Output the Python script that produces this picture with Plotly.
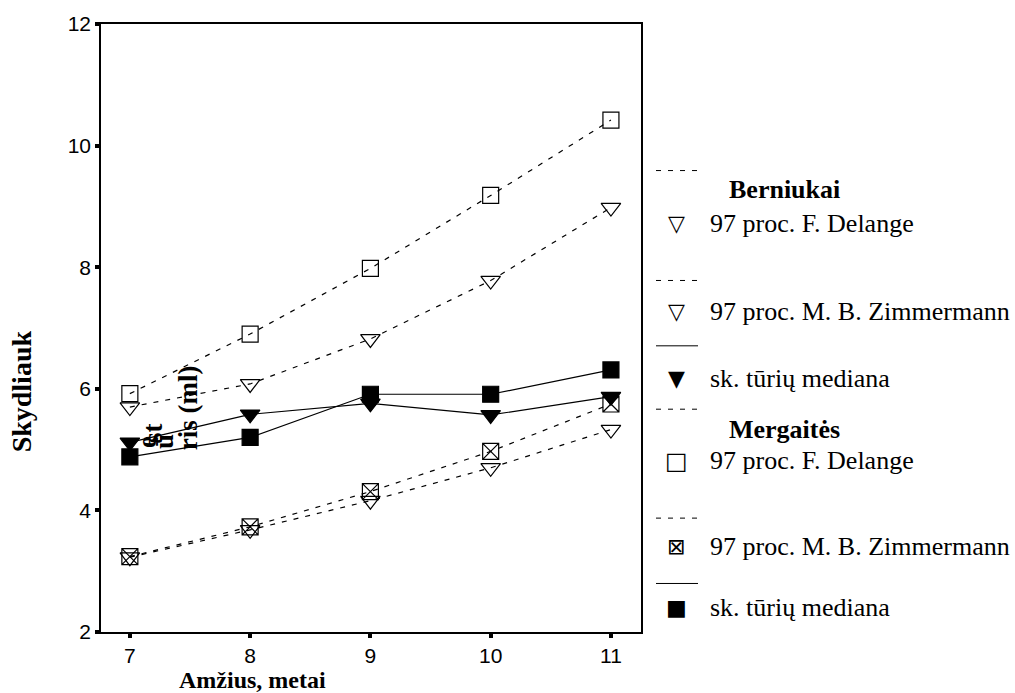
import plotly.graph_objects as go

ages = [7, 8, 9, 10, 11]
boys_delange = [5.70, 6.08, 6.82, 7.78, 8.98]
boys_zimmermann = [3.23, 3.68, 4.16, 4.70, 5.33]
boys_median = [5.12, 5.58, 5.76, 5.57, 5.87]
girls_delange = [5.92, 6.90, 7.98, 9.18, 10.42]
girls_zimmermann = [3.24, 3.73, 4.31, 4.97, 5.75]
girls_median = [4.88, 5.20, 5.91, 5.91, 6.31]

y_ticks = [2, 4, 6, 8, 10, 12]

W, H = 1015, 693
L, R, T, B = 101, 641, 18, 632


def px(x):
    return (x - L) / (R - L)


def py(y):
    return (B - y) / (B - T)


DASH = "5px,7px"
SERIF = "Liberation Serif"

fig = go.Figure()


def add(y, symbol, dash, size=17, fill="black"):
    fig.add_trace(go.Scatter(
        x=ages, y=y, mode="lines+markers",
        line=dict(color="black", width=1.2, dash=dash),
        marker=dict(symbol=symbol, size=size, color=fill,
                    line=dict(color="black", width=1.2)),
        showlegend=False, hoverinfo="skip"))


add(boys_delange, "triangle-down-open", DASH)
add(boys_zimmermann, "triangle-down-open", DASH)
add(girls_delange, "square-open", DASH, size=16)
add(girls_zimmermann, "square-x-open", DASH, size=16)
add(boys_median, "triangle-down", "solid")
add(girls_median, "square", "solid", size=16)

annotations = []
shapes = []


def text(x, y, s, size=26, bold=False, anchor="left", family=SERIF, angle=0):
    annotations.append(dict(
        x=px(x), y=py(y), xref="paper", yref="paper", showarrow=False,
        text=f"<b>{s}</b>" if bold else s, xanchor=anchor, yanchor="middle",
        textangle=angle, font=dict(family=family, size=size, color="black")))


def hline(y, dash):
    shapes.append(dict(type="line", xref="paper", yref="paper",
                       x0=px(656), x1=px(698), y0=py(y), y1=py(y),
                       line=dict(color="black", width=1, dash=dash)))


SYM = "DejaVu Sans"
hline(166, DASH)
text(727, 185, "Berniukai", bold=True)
text(676, 219, "▽", size=22, anchor="center", family=SYM)
text(708, 219, "97 proc. F. Delange")
hline(277, DASH)
text(676, 308, "▽", size=22, anchor="center", family=SYM)
text(708, 308, "97 proc. M. B. Zimmermann")
hline(343, "solid")
text(676, 376, "▼", size=22, anchor="center", family=SYM)
text(708, 376, "sk. tūrių mediana")
hline(407, DASH)
text(727, 427, "Mergaitės", bold=True)
text(676, 459, "□", size=24, anchor="center", family=SYM)
text(708, 459, "97 proc. F. Delange")
hline(517, DASH)
text(676, 546, "⊠", size=22, anchor="center", family=SYM)
text(708, 546, "97 proc. M. B. Zimmermann")
hline(583, "solid")
text(676, 607, "■", size=22, anchor="center", family=SYM)
text(708, 607, "sk. tūrių mediana")

# axis titles (as rendered in the original, partly broken)
text(252, 680, "Amžius, metai", size=24, bold=True, anchor="center")
text(21, 389, "Skydliauk", size=28, bold=True, anchor="center", angle=-90)
text(147, 440, "ę", size=27, bold=True, anchor="center", angle=-90)
text(153, 431, "st", size=27, bold=True, anchor="center", angle=-90)
text(164, 440, "ū", size=27, bold=True, anchor="center", angle=-90)
text(188, 406, "ris (ml)", size=27, bold=True, anchor="center", angle=-90)

axis_common = dict(
    showline=True, linecolor="black", linewidth=1.5, mirror=True,
    showgrid=False, zeroline=False, ticks="outside", ticklen=4,
    tickwidth=4, tickcolor="black",
    tickfont=dict(family="Liberation Sans", size=21, color="black"))

fig.update_layout(
    width=W, height=H,
    margin=dict(l=L, r=W - R, t=T, b=H - B, pad=0),
    paper_bgcolor="white", plot_bgcolor="white",
    xaxis=dict(range=[6.76, 11.25], tickvals=ages,
               ticktext=[str(a) for a in ages], **axis_common),
    yaxis=dict(range=[2, 12], tickvals=y_ticks,
               ticktext=[str(v) for v in y_ticks], **axis_common),
    annotations=annotations, shapes=shapes,
)

fig.write_html("out.html")
